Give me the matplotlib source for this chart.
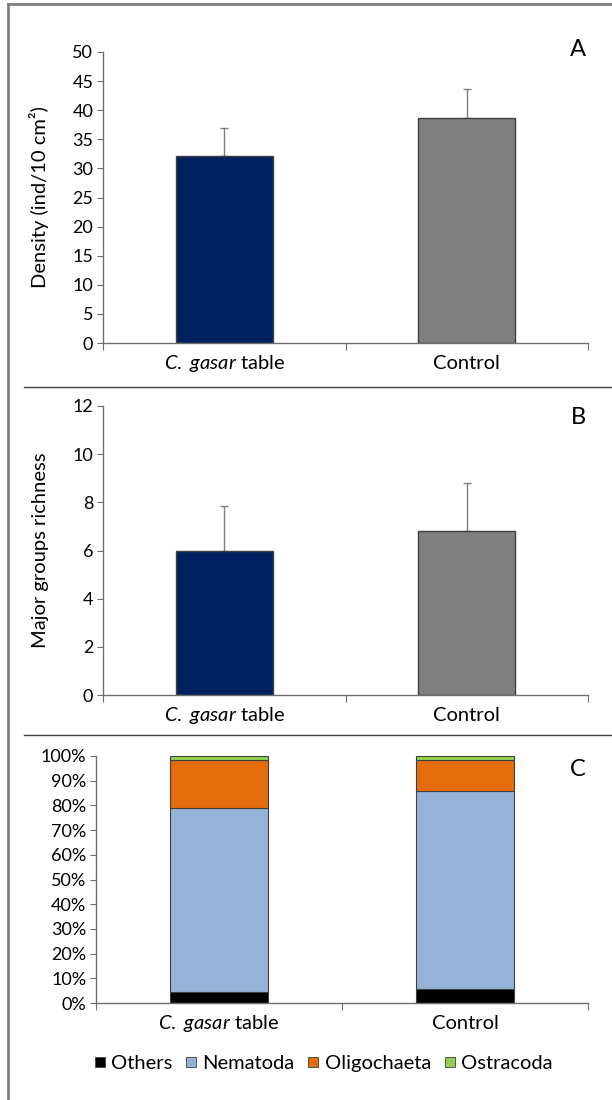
import matplotlib
matplotlib.use("Agg")
import matplotlib.pyplot as plt
from matplotlib.lines import Line2D
import numpy as np

plt.rcParams["font.family"] = ["Lato", "DejaVu Sans"]
plt.rcParams["mathtext.fontset"] = "custom"
plt.rcParams["mathtext.it"] = "Lato:italic"
plt.rcParams["mathtext.rm"] = "Lato"

# data
groups = [r"$\mathit{C.\ gasar}$ table", "Control"]
density = [32.2, 38.7]
density_err = [4.8, 4.9]
richness = [6.0, 6.8]
richness_err = [1.85, 2.0]

taxa = ["Others", "Nematoda", "Oligochaeta", "Ostracoda"]
composition = {
    "Others": [4.5, 5.8],
    "Nematoda": [74.5, 80.2],
    "Oligochaeta": [19.5, 12.5],
    "Ostracoda": [1.5, 1.5],
}
taxa_colors = ["#000000", "#95B3D7", "#E46C0A", "#92D050"]
bar_colors = ["#002060", "#808080"]

W, H = 612, 1100
fig = plt.figure(figsize=(W / 100, H / 100), dpi=100)

def px_axes(left, top, right, bottom):
    return fig.add_axes([left / W, 1 - bottom / H, (right - left) / W, (bottom - top) / H])

def style(ax):
    for s in ["top", "right"]:
        ax.spines[s].set_visible(False)
    for s in ["left", "bottom"]:
        ax.spines[s].set_color("#6f6f6f")
        ax.spines[s].set_linewidth(1)
    ax.tick_params(axis="y", direction="out", length=4, color="#6f6f6f", labelsize=13, pad=3)
    ax.set_xlim(-0.5, 1.5)
    ax.set_xticks([-0.5, 0.5, 1.5])
    ax.set_xticklabels([])
    ax.set_xticks([0, 1], minor=True)
    ax.set_xticklabels(groups, minor=True, fontsize=14.5, va="baseline")
    ax.tick_params(axis="x", which="major", direction="out", length=5, color="#6f6f6f")
    ax.tick_params(axis="x", which="minor", length=0, pad=19)

x = np.arange(len(groups))

# panel A
axA = px_axes(103, 52, 588, 343)
axA.bar(x, density, width=0.4, color=bar_colors, edgecolor="#404040", linewidth=1, zorder=2)
axA.errorbar(x, density, yerr=[np.zeros(2), density_err], fmt="none", ecolor="#7f7f7f",
             elinewidth=1, capsize=3, zorder=1)
axA.set_ylim(0, 50)
axA.set_yticks(np.arange(0, 51, 5))
axA.set_ylabel("Density (ind/10 cm²)", fontsize=14.5)
axA.yaxis.set_label_coords(-0.112, 0.5)
style(axA)
fig.text(578 / W, 1 - 50 / H, "A", fontsize=17, ha="center", va="center")

# panel B
axB = px_axes(103, 406, 588, 695)
axB.bar(x, richness, width=0.4, color=bar_colors, edgecolor="#404040", linewidth=1, zorder=2)
axB.errorbar(x, richness, yerr=[np.zeros(2), richness_err], fmt="none", ecolor="#7f7f7f",
             elinewidth=1, capsize=3, zorder=1)
axB.set_ylim(0, 12)
axB.set_yticks(np.arange(0, 13, 2))
axB.set_ylabel("Major groups richness", fontsize=14.5)
axB.yaxis.set_label_coords(-0.112, 0.5)
style(axB)
fig.text(578 / W, 1 - 418 / H, "B", fontsize=17, ha="center", va="center")

# panel C
axC = px_axes(96, 756, 588, 1003)
bottom = np.zeros(2)
for name, col in zip(taxa, taxa_colors):
    vals = np.array(composition[name])
    axC.bar(x, vals, bottom=bottom, width=0.4, color=col, edgecolor="#404040",
            linewidth=0.8, label=name)
    bottom += vals
axC.set_ylim(0, 100)
axC.set_yticks(np.arange(0, 101, 10))
axC.set_yticklabels([f"{v}%" for v in range(0, 101, 10)])
style(axC)
fig.text(578 / W, 1 - 770 / H, "C", fontsize=17, ha="center", va="center")

handles = [Line2D([], [], marker="s", linestyle="none", markersize=7, markerfacecolor=c,
                  markeredgecolor="#404040", markeredgewidth=0.6) for c in taxa_colors]
fig.legend(handles, taxa, loc="center", bbox_to_anchor=(321 / W, 1 - 1063 / H), ncol=4,
           frameon=False, fontsize=14.5, handletextpad=0.05, columnspacing=0.45, handlelength=1)

# frame lines
border = dict(color="#7f7f7f", linewidth=2, transform=fig.transFigure)
fig.add_artist(Line2D([8 / W, 8 / W], [0, 1 - 4 / H], **border))
fig.add_artist(Line2D([8 / W, 1], [1 - 4 / H, 1 - 4 / H], **border))
sep = dict(color="#404040", linewidth=1, transform=fig.transFigure)
fig.add_artist(Line2D([24 / W, 1], [1 - 387 / H, 1 - 387 / H], **sep))
fig.add_artist(Line2D([24 / W, 1], [1 - 735 / H, 1 - 735 / H], **sep))

fig.savefig("out.png", dpi=100)
